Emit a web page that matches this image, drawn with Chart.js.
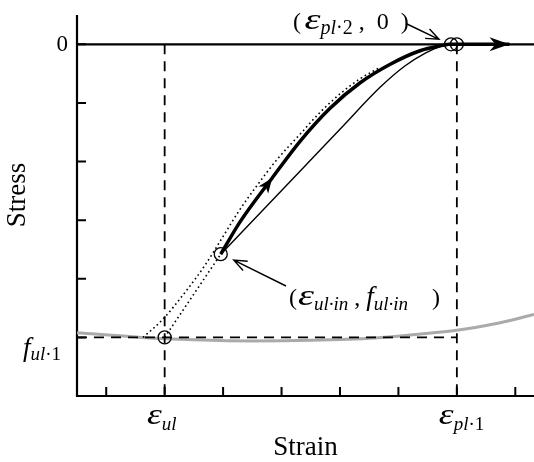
<!DOCTYPE html>
<html>
<head>
<meta charset="utf-8">
<script src="https://cdn.jsdelivr.net/npm/chart.js@4.4.0/dist/chart.umd.min.js"></script>
<style>
  html, body { margin: 0; padding: 0; background: #fff; }
</style>
</head>
<body>
<canvas id="stressStrainChart" width="534" height="462"></canvas>
<script>
// units: strain eps_ul = 1, eps_pl1 = 6 ; stress f_ul1 = -5
const xTicks = [0, 1, 2, 3, 4, 5, 6, 7];
const yTicks = [0, -1, -2, -3, -4, -5, -6];

const epsUl = 1;
const epsPl1 = 6;
const epsPl2 = 5.9;
const fUl1 = -5;
const ulInX = 1.96;
const ulInY = -3.58;

// grey envelope curve
const envX = [-0.5, 0.6, 1.5, 2.5, 3.5, 4.6, 5.3, 6.0, 6.7, 7.32];
const envY = [-4.92, -5.0, -5.04, -5.06, -5.05, -5.01, -4.95, -4.88, -4.76, -4.61];

// thick reloading curve
const reloadX = [1.96, 2.29, 2.84, 3.32, 3.83, 4.34, 4.86, 5.37, 5.8, 5.85];
const reloadY = [-3.58, -3.03, -2.28, -1.65, -1.09, -0.66, -0.34, -0.11, -0.01, 0];

// thin curve
const thinX = [1.96, 3.32, 4.0, 4.69, 5.11, 5.46, 5.71, 5.85];
const thinY = [-3.58, -2.16, -1.45, -0.73, -0.37, -0.15, -0.04, 0];

// dotted curve leaving the envelope
const dotAX = [0.63, 0.97, 1.35, 1.69, 1.98, 2.26, 2.55, 2.92, 3.32, 3.66, 4.02, 4.34, 4.69];
const dotAY = [-5.0, -4.69, -4.23, -3.77, -3.31, -2.86, -2.45, -1.97, -1.53, -1.16, -0.83, -0.59, -0.39];

// dotted straight line
const dotBX = [epsUl, ulInX];
const dotBY = [fUl1, ulInY];

// continuation along zero
const tailX = [5.85, 6.9];
const tailY = [0, 0];

const markX = [epsUl, ulInX, epsPl2, epsPl1];
const markY = [fUl1, ulInY, 0, 0];

function pts(xs, ys) {
    return xs.map(function (x, i) { return {x: x, y: ys[i]}; });
}

const SERIF = "'Liberation Serif', 'Times New Roman', serif";

// parts: [text, font, dy, stretchX]
function drawRich(ctx, x, y, parts) {
    ctx.textAlign = "left";
    ctx.textBaseline = "alphabetic";
    let cx = x;
    parts.forEach(function (p) {
        let sx = p[3] || 1;
        ctx.font = p[1] + " " + SERIF;
        ctx.save();
        ctx.translate(cx, y + (p[2] || 0));
        ctx.scale(sx, 1);
        ctx.fillText(p[0], 0, 0);
        ctx.restore();
        cx += ctx.measureText(p[0]).width * sx;
    });
    return cx;
}

function richWidth(ctx, parts) {
    let w = 0;
    parts.forEach(function (p) {
        ctx.font = p[1] + " " + SERIF;
        w += ctx.measureText(p[0]).width * (p[3] || 1);
    });
    return w;
}

function openArrow(ctx, x1, y1, x2, y2, size) {
    let a = Math.atan2(y2 - y1, x2 - x1);
    ctx.beginPath();
    ctx.moveTo(x1, y1);
    ctx.lineTo(x2, y2);
    ctx.moveTo(x2 - size * Math.cos(a - 0.38), y2 - size * Math.sin(a - 0.38));
    ctx.lineTo(x2, y2);
    ctx.lineTo(x2 - size * Math.cos(a + 0.38), y2 - size * Math.sin(a + 0.38));
    ctx.stroke();
}

function barbArrow(ctx, x, y, a, len, halfW, notch) {
    let c = Math.cos(a), s = Math.sin(a);
    ctx.beginPath();
    ctx.moveTo(x, y);
    ctx.lineTo(x - len * c + halfW * s, y - len * s - halfW * c);
    ctx.lineTo(x - (len - notch) * c, y - (len - notch) * s);
    ctx.lineTo(x - len * c - halfW * s, y - len * s + halfW * c);
    ctx.closePath();
    ctx.fill();
}

const decorPlugin = {
    id: "decor",
    beforeDatasetsDraw: function (chart) {
        const ctx = chart.ctx;
        const xs = chart.scales.x, ys = chart.scales.y;
        const area = chart.chartArea;
        ctx.save();
        ctx.strokeStyle = "#000";
        ctx.lineWidth = 2.2;
        ctx.beginPath();
        ctx.moveTo(area.left, area.top);
        ctx.lineTo(area.left, area.bottom);
        ctx.lineTo(area.right, area.bottom);
        ctx.moveTo(area.left, ys.getPixelForValue(0));
        ctx.lineTo(area.right, ys.getPixelForValue(0));
        ctx.stroke();
        // inward tick marks
        ctx.lineWidth = 2;
        ctx.beginPath();
        xTicks.forEach(function (t) {
            let px = xs.getPixelForValue(t);
            ctx.moveTo(px, area.bottom);
            ctx.lineTo(px, area.bottom - 9);
        });
        yTicks.forEach(function (t) {
            let py = ys.getPixelForValue(t);
            ctx.moveTo(area.left, py);
            ctx.lineTo(area.left + 9, py);
        });
        ctx.stroke();
        ctx.restore();
    },
    afterDatasetsDraw: function (chart) {
        const ctx = chart.ctx;
        const xs = chart.scales.x, ys = chart.scales.y;
        const area = chart.chartArea;
        ctx.save();
        ctx.fillStyle = "#000";
        ctx.strokeStyle = "#000";

        // arrow on zero line
        barbArrow(ctx, xs.getPixelForValue(tailX[1]), ys.getPixelForValue(0), 0, 20, 7, 6);

        // arrow on reloading curve
        let ax = xs.getPixelForValue(reloadX[2]), ay = ys.getPixelForValue(reloadY[2]);
        let bx = xs.getPixelForValue(reloadX[1]), by = ys.getPixelForValue(reloadY[1]);
        barbArrow(ctx, ax, ay, Math.atan2(ay - by, ax - bx), 15, 6, 4);

        // annotation arrows
        ctx.lineWidth = 1.4;
        openArrow(ctx, 407, 24, xs.getPixelForValue(epsPl2) - 12, ys.getPixelForValue(0) - 5, 14);
        openArrow(ctx, 286, 286, xs.getPixelForValue(ulInX) + 13, ys.getPixelForValue(ulInY) + 6, 14);

        // tick labels
        ctx.font = "23px " + SERIF;
        ctx.textAlign = "right";
        ctx.textBaseline = "middle";
        ctx.fillText("0", area.left - 9, ys.getPixelForValue(0) + 1);

        drawRich(ctx, 23, ys.getPixelForValue(fUl1) + 19, [
            ["f", "italic 27px"], ["ul", "italic 19px", 4], ["\u00b71", "19px", 4]
        ]);

        let p1 = [["\u03b5", "italic 30px", 0, 1.25], ["ul", "italic 19px", 6]];
        drawRich(ctx, xs.getPixelForValue(epsUl) - richWidth(ctx, p1) / 2 - 3, area.bottom + 28, p1);
        let p2 = [["\u03b5", "italic 30px", 0, 1.25], ["pl", "italic 19px", 6], ["\u00b71", "19px", 6]];
        drawRich(ctx, xs.getPixelForValue(epsPl1) - 18, area.bottom + 28, p2);

        // annotation labels
        drawRich(ctx, 293, 29, [
            ["(", "24px"], [" ", "14px"], ["\u03b5", "italic 30px", 0, 1.35], ["pl", "italic 20px", 5],
            ["\u00b72", "20px", 5], [" ,  0  )", "24px"]
        ]);
        drawRich(ctx, 289, 305, [
            ["(", "24px"], [" ", "4px"], ["\u03b5", "italic 30px", 0, 1.35], ["ul", "italic 19px", 5],
            ["\u00b7in", "italic 19px", 5], [" , ", "24px"], ["f", "italic 27px"],
            ["ul", "italic 19px", 5], ["\u00b7in", "italic 19px", 5], ["    )", "24px"]
        ]);

        // axis titles
        ctx.font = "27px " + SERIF;
        ctx.textAlign = "center";
        ctx.textBaseline = "alphabetic";
        ctx.fillText("Strain", (area.left + area.right) / 2, 455);
        ctx.translate(25, 195);
        ctx.rotate(-Math.PI / 2);
        ctx.fillText("Stress", 0, 0);
        ctx.restore();
    }
};

const dashStyle = {borderColor: "#000", borderWidth: 1.8, borderDash: [10, 7], pointRadius: 0, showLine: true, fill: false};

new Chart("stressStrainChart", {
    type: "scatter",
    data: {
        datasets: [
            {
                data: pts(markX, markY),
                pointRadius: 6.5,
                pointBorderWidth: 1.3,
                pointBorderColor: "#000",
                pointBackgroundColor: "rgba(0,0,0,0)",
                showLine: false
            },
            {
                data: pts(tailX, tailY),
                borderColor: "#000", borderWidth: 3.5, pointRadius: 0, showLine: true
            },
            {
                data: pts(reloadX, reloadY),
                borderColor: "#000", borderWidth: 3.5, pointRadius: 0, showLine: true,
                cubicInterpolationMode: "monotone"
            },
            {
                data: pts(thinX, thinY),
                borderColor: "#000", borderWidth: 1.4, pointRadius: 0, showLine: true,
                cubicInterpolationMode: "monotone"
            },
            {
                data: pts(dotAX, dotAY),
                borderColor: "#000", borderWidth: 1.6, borderDash: [1.6, 3], pointRadius: 0, showLine: true,
                cubicInterpolationMode: "monotone"
            },
            {
                data: pts(dotBX, dotBY),
                borderColor: "#000", borderWidth: 1.6, borderDash: [1.6, 3], pointRadius: 0, showLine: true
            },
            Object.assign({data: pts([xTicks[0] - 0.5, epsPl1], [fUl1, fUl1])}, dashStyle),
            Object.assign({data: pts([epsUl, epsUl], [0, yTicks[yTicks.length - 1]])}, dashStyle),
            Object.assign({data: pts([epsPl1, epsPl1], [0, yTicks[yTicks.length - 1]])}, dashStyle),
            {
                data: pts(envX, envY),
                borderColor: "#aaaaaa", borderWidth: 3, pointRadius: 0, showLine: true,
                cubicInterpolationMode: "monotone"
            }
        ]
    },
    options: {
        responsive: false,
        animation: false,
        layout: {autoPadding: false, padding: {left: 77, top: 15, right: 0, bottom: 66}},
        scales: {
            x: {type: "linear", min: -0.5, max: 7.32, display: false},
            y: {type: "linear", min: -6, max: 0.5, display: false}
        },
        plugins: {
            legend: {display: false},
            tooltip: {enabled: false}
        }
    },
    plugins: [decorPlugin]
});
</script>
</body>
</html>
